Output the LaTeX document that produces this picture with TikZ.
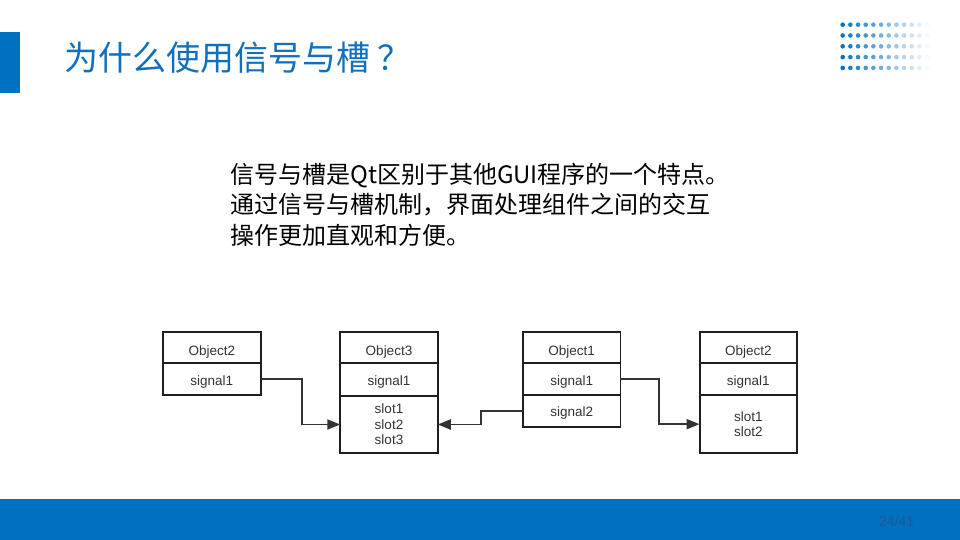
\documentclass[tikz,border=0pt]{standalone}
\usepackage{fontspec}
\setmainfont{Liberation Sans}
\newfontfamily\cjk{Noto Sans CJK SC}
\usetikzlibrary{arrows.meta}
\definecolor{wpsblue}{RGB}{0,112,192}
\definecolor{titleblue}{RGB}{16,112,190}
\definecolor{pagenum}{RGB}{30,88,148}
\definecolor{linegray}{RGB}{51,51,51}
\definecolor{boxline}{RGB}{30,30,30}
\tikzset{
  cell/.style={draw=boxline, line width=1.9pt, minimum width=97.5pt, inner sep=0pt, outer sep=0pt,
    text=linegray, font=\fontsize{13.5}{15.5}\selectfont},
  bl/.style={text height=#1, text depth=0pt},
  conn/.style={draw=linegray, line width=1.9pt,
    -{Triangle[length=13pt,width=10pt]}},
}
\begin{document}
\begin{tikzpicture}[x=1pt,y=-1pt]
\useasboundingbox (0,0) rectangle (960,540);
% left accent bar and title
\fill[wpsblue] (0,32) rectangle (20,93);
\node[anchor=west, inner sep=0pt, text=titleblue, font=\cjk\fontsize{34}{40}\selectfont] (title) at (64,58) {为什么使用信号与槽\hspace{7pt}？};
% dot grid
\foreach \r in {0,...,4}{
  \foreach \c in {0,...,11}{
    \pgfmathsetmacro{\op}{max(0.04,1-\c*0.088)}
    \fill[wpsblue, opacity=\op] (842.7+\c*7.67, 24.7+\r*10.8) circle (2.3);
  }
}
% body text
\node[anchor=north west, inner sep=0pt, align=left, font=\cjk\fontsize{24}{30.5}\selectfont] (body) at (230,163)
  {信号与槽是Qt区别于其他GUI程序的一个特点。\\通过信号与槽机制，界面处理组件之间的交互\\操作更加直观和方便。};
% box A
\node[cell, bl=15pt, minimum height=30.4pt] (aT) at (211.8,347.5) {Object2};
\node[cell, bl=13pt, minimum height=32.3pt, anchor=north] (aS) at (aT.south) {signal1};
% box B
\node[cell, bl=15pt, minimum height=30.4pt] (bT) at (389,347.5) {Object3};
\node[cell, bl=13pt, minimum height=33pt, anchor=north] (bS) at (bT.south) {signal1};
\node[cell, align=center, minimum height=57.6pt, anchor=north] (bSl) at (bS.south) {slot1\\slot2\\slot3};
% box C
\node[cell, bl=15pt, minimum height=30.4pt] (cT) at (571.7,347.5) {Object1};
\node[cell, bl=13pt, minimum height=32.3pt, anchor=north] (cS1) at (cT.south) {signal1};
\node[cell, bl=11pt, minimum height=31.7pt, anchor=north] (cS2) at (cS1.south) {signal2};
% box D
\node[cell, bl=15pt, minimum height=30.4pt] (dT) at (748.3,347.5) {Object2};
\node[cell, bl=13pt, minimum height=32.3pt, anchor=north] (dS) at (dT.south) {signal1};
\node[cell, align=center, minimum height=58.3pt, anchor=north] (dSl) at (dS.south) {slot1\\slot2};
% connectors
\draw[conn] (aS.east) -- ++(41.4,0) |- (bSl.west);
\draw[conn] (cS2.west) -- ++(-42,0) |- (bSl.east);
\draw[conn] (cS1.east) -- ++(38.6,0) |- (dSl.west);
% bottom bar
\fill[wpsblue] (0,499) rectangle (960,540);
\node[text=pagenum, font=\fontsize{14}{16}\selectfont, inner sep=0pt] (page) at (896.7,521) {24/41};
\end{tikzpicture}
\end{document}
